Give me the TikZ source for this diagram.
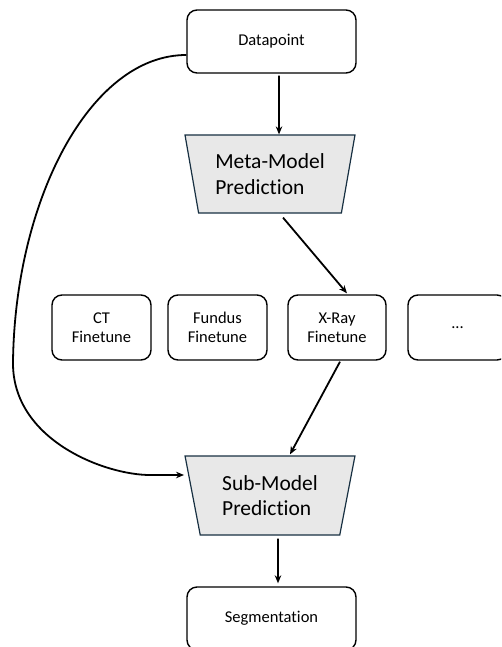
\documentclass[tikz,border=0pt]{standalone}
\usepackage{fontspec}
\setmainfont{Carlito}[Ligatures={NoCommon,NoRequired,NoContextual}]
\usetikzlibrary{shapes.geometric,arrows.meta,calc}

\definecolor{modelfill}{RGB}{232,232,232}
\definecolor{modeledge}{RGB}{24,48,66}

\tikzset{
  stagebox/.style={draw=black, line width=1.4pt, rounded corners=10pt,
    align=center, inner sep=0pt, font=\fontsize{16.5}{19}\selectfont},
  modelbox/.style={trapezium, shape border rotate=180, trapezium stretches=true,
    trapezium left angle=75.6, trapezium right angle=75.6,
    minimum width=170pt, minimum height=78pt, inner sep=0pt,
    fill=modelfill, draw=modeledge, line width=1.2pt,
    align=left, font=\fontsize{21.5}{25.5}\selectfont},
  flow/.style={line width=1.8pt, -{Stealth[length=8pt,width=6.5pt]}},
}

\begin{document}
\begin{tikzpicture}[x=1pt,y=-1pt]
  \useasboundingbox (0,0) rectangle (501,647);
  \clip (0,0) rectangle (501,647);

  % input and output
  \node[stagebox, minimum width=169pt, minimum height=63pt] (dp) at (271.5,41.5) {Datapoint};
  \node[stagebox, minimum width=169pt, minimum height=63pt] (seg) at (271.5,618.5) {Segmentation};

  % models
  \node[modelbox] (meta) at (270,174) {Meta-Model\\Prediction};
  \node[modelbox, minimum height=79pt] (sub) at (270,495.5) {Sub-Model\\Prediction};

  % finetuned sub-models
  \node[stagebox, minimum width=99pt, minimum height=65pt] (ct) at (101.5,327.5) {CT\\Finetune};
  \node[stagebox, minimum width=99pt, minimum height=65pt] (fundus) at (217.5,327.5) {Fundus\\Finetune};
  \node[stagebox, minimum width=98pt, minimum height=65pt] (xray) at (337,327.5) {X-Ray\\Finetune};
  \node[stagebox, minimum width=99pt, minimum height=65pt] (more) at (457.5,327.5) {...};

  % connectors
  \draw[flow] ($(dp.south)+(7.5,2)$) -- ($(meta.north)+(9,0)$);
  \draw[flow] ($(meta.south)+(13,4)$) -- ($(xray.north)+(10,-1)$);
  \draw[flow] ($(xray.south)+(3,1)$) -- ($(sub.north)+(20,-1)$);
  \draw[flow] ($(sub.south)+(8,3)$) -- ($(seg.north)+(6.5,-3)$);

  \coordinate (bypass) at (13,362);
  \draw[line width=1.8pt] ($(dp.west)+(0,13.5)$) .. controls (90,55) and (15,200) .. (bypass);
  \draw[flow] (bypass) .. controls (12,440) and (105,475) .. (150,475) -- ($(sub.west)+(-8,-20.5)$);
\end{tikzpicture}
\end{document}
